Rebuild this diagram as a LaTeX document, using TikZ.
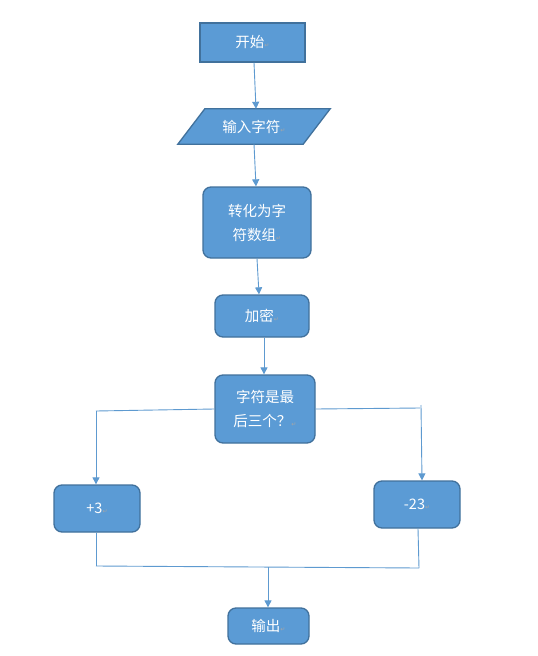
\documentclass[tikz,border=0pt]{standalone}
\usepackage{fontspec}
\newfontfamily\cjk{Noto Sans CJK SC}
\newfontfamily\dejavu{DejaVu Sans}
\usetikzlibrary{arrows.meta,calc}
\definecolor{boxfill}{HTML}{5B9BD5}
\definecolor{boxline}{HTML}{41719C}
\definecolor{conn}{HTML}{5E9AD0}
\newcommand{\pmk}{{\dejavu\fontsize{6}{6}\selectfont\color{gray!70}\char"21B5}}
\tikzset{
  base/.style={fill=boxfill, draw=boxline, line width=1.3pt, text=white,
    font=\cjk\fontsize{14.5}{24}\selectfont, inner sep=0pt, align=center},
  sharpbox/.style={base},
  roundbox/.style={base, rounded corners=8pt},
  conn/.style={draw=conn, line width=0.9pt},
  arr/.style={conn, -{Triangle[length=7pt,width=7pt]}},
}
\begin{document}
\begin{tikzpicture}[x=1pt,y=-1pt]
\useasboundingbox (0,0) rectangle (538,656);
\fill[white] (0,0) rectangle (538,656);

\node[sharpbox, minimum width=105pt, minimum height=39pt] (start) at (252.5,42.5) {开始\pmk};

% parallelogram
\node[inner sep=0pt, minimum width=152pt, minimum height=35pt] (inp) at (254,126.5) {};
\draw[fill=boxfill, draw=boxline, line width=1.3pt]
  ($(inp.north west)+(27,0)$) -- (inp.north east) -- ($(inp.south east)-(27,0)$) -- (inp.south west) -- cycle;
\node[text=white, font=\cjk\fontsize{14.5}{24}\selectfont] (inptext) at (254,127) {输入字符\pmk};

\node[roundbox, minimum width=108pt, minimum height=71pt] (conv) at (257,222.5) {转化为字\\符数组\pmk};
\node[roundbox, minimum width=94pt, minimum height=42pt] (enc) at (262,316) {加密\pmk};
\node[roundbox, minimum width=100pt, minimum height=68pt] (dec) at (265,409) {字符是最\\后三个？\pmk};
\node[roundbox, minimum width=86pt, minimum height=47pt] (plus) at (97,508.5) {+3\pmk};
\node[roundbox, minimum width=86pt, minimum height=47pt] (minus) at (417,504.5) {-23\pmk};
\node[roundbox, minimum width=81pt, minimum height=36pt] (out) at (268.5,626) {输出\pmk};

% connectors
\draw[arr] ($(start.south)+(1.5,0)$) -- ($(inp.north)+(2,0)$);
\draw[arr] ($(inp.south)$) -- ($(conv.north)+(-1,0)$);
\draw[arr] (conv.south) -- ($(enc.north)+(-3,0)$);
\draw[arr] ($(enc.south)+(2,0)$) -- ($(dec.north)+(-1,0)$);

\coordinate (lc) at (96,411);
\coordinate (rc) at (420,408);
\coordinate (rt) at (421,405);
\draw[conn] (dec.west) -- (lc);
\draw[arr] (lc) -- (plus.north -| lc);
\draw[conn] (dec.east) -- (rc);
\draw[arr] (rt) -- ($(minus.north)+(5,0)$);

\coordinate (jl) at (96,566);
\coordinate (jr) at (419,568);
\coordinate (jm) at (268,567);
\draw[conn] (plus.south -| jl) -- (jl);
\draw[conn] ($(minus.south)+(1,0)$) -- (jr);
\draw[conn] (jl) -- (jr);
\draw[arr] (jm) -- (out.north -| jm);
\end{tikzpicture}
\end{document}
